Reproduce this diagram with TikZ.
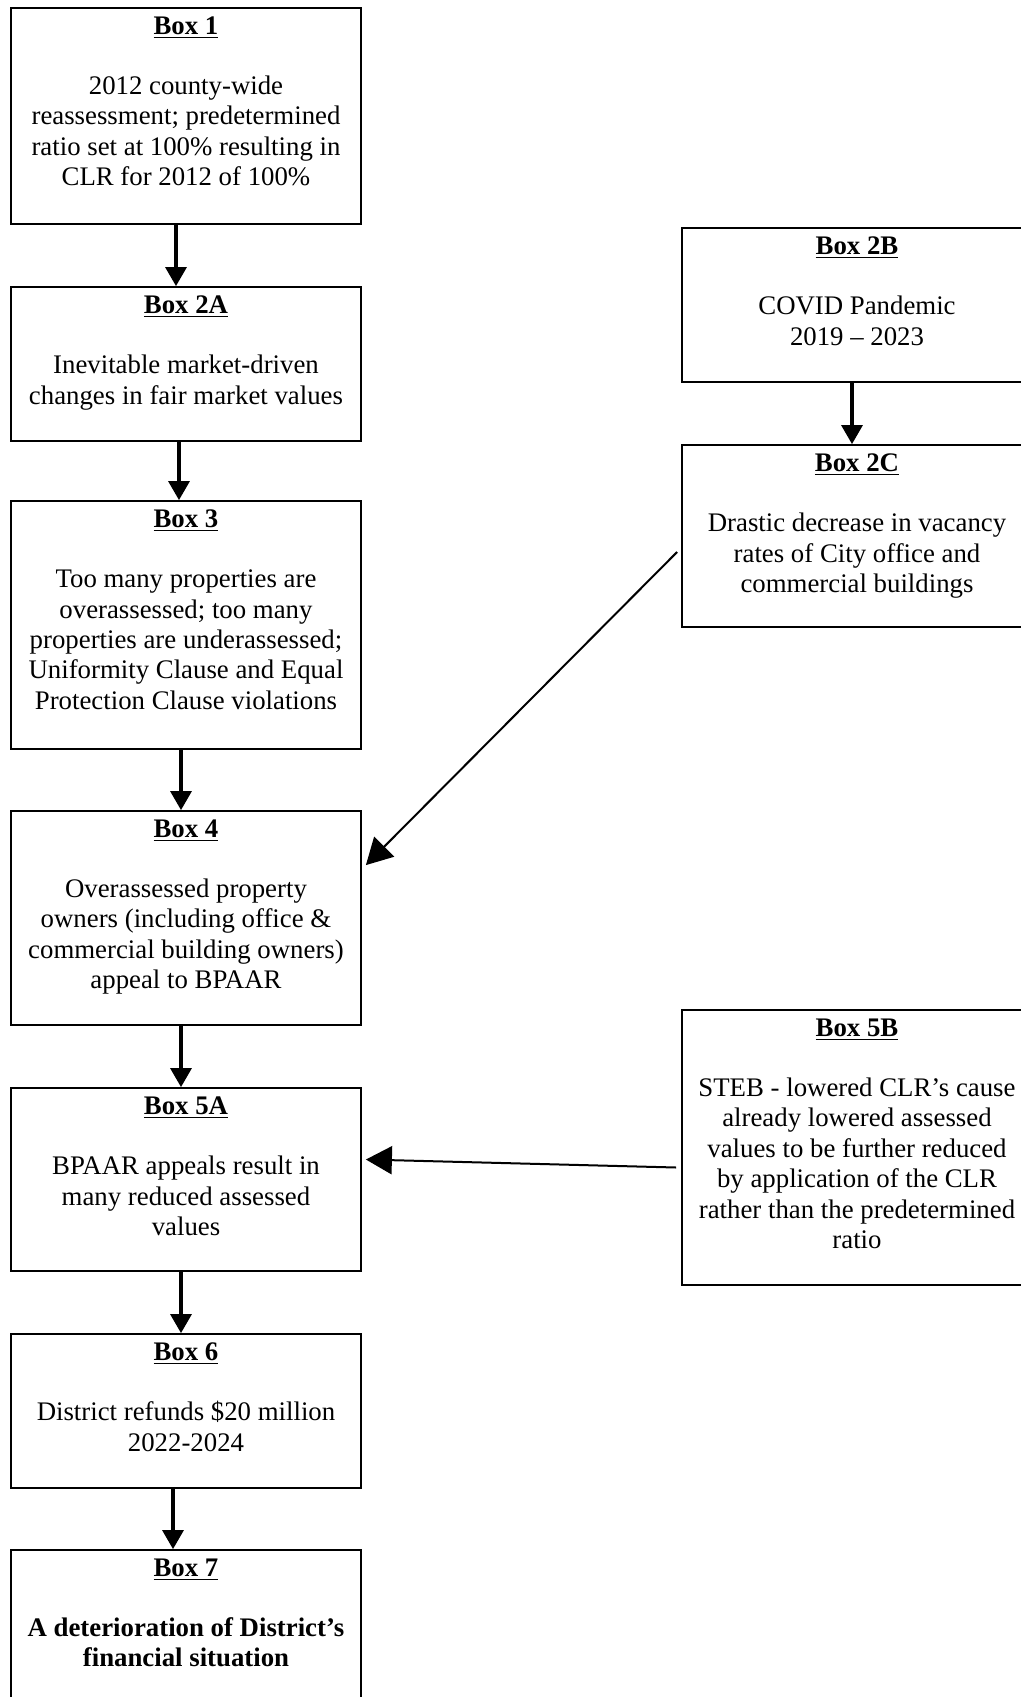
\documentclass[tikz,border=0pt]{standalone}
\usepackage{fontspec}
\setmainfont{Liberation Serif}
\usetikzlibrary{arrows.meta, calc, positioning}

\begin{document}
\begin{tikzpicture}[x=0.5pt, y=-0.5pt,
  box/.style={draw, line width=0.9pt, minimum width=175pt, inner sep=0pt},
  boxtext/.style={anchor=north, align=center, inner sep=0pt, font=\fontsize{13.4}{15.2}\selectfont},
  down/.style={-{Triangle[width=10.5pt,length=9.5pt]}, line width=1.6pt},
  side/.style={-{Triangle[width=14pt,length=13pt]}, line width=1pt}]
\useasboundingbox (0,0) rectangle (1021,1697);
\fill[white] (0,0) rectangle (1021,1697);
\clip (0,0) rectangle (1021,1697);
% left column
\node[box, minimum height=108pt] (b1) at (186,116) {};
\node[box, minimum height=77pt] (b2a) at (186,364) {};
\node[box, minimum height=124pt] (b3) at (186,625) {};
\node[box, minimum height=107pt] (b4) at (186,918) {};
\node[box, minimum height=91.5pt] (b5a) at (186,1179.5) {};
\node[box, minimum height=77pt] (b6) at (186,1411) {};
\node[box, minimum height=80pt] (b7) at (186,1630) {};
% right column
\node[box, minimum height=77pt] (b2b) at (857,305) {};
\node[box, minimum height=91pt] (b2c) at (857,536) {};
\node[box, minimum height=137.5pt] (b5b) at (857,1147.5) {};
% texts
\node[boxtext] (t1) at ($(b1.north)+(0,9)$) {\underline{\textbf{Box 1}}\\[15pt]
  2012 county-wide\\ reassessment; predetermined\\ ratio set at 100\% resulting in\\ CLR for 2012 of 100\%};
\node[boxtext] (t2a) at ($(b2a.north)+(0,9)$) {\underline{\textbf{Box 2A}}\\[15pt]
  Inevitable market-driven\\ changes in fair market values};
\node[boxtext] (t3) at ($(b3.north)+(0,9)$) {\underline{\textbf{Box 3}}\\[15pt]
  Too many properties are\\ overassessed; too many\\ properties are underassessed;\\ Uniformity Clause and Equal\\ Protection Clause violations};
\node[boxtext] (t4) at ($(b4.north)+(0,9)$) {\underline{\textbf{Box 4}}\\[15pt]
  Overassessed property\\ owners (including office \&\\ commercial building owners)\\ appeal to BPAAR};
\node[boxtext] (t5a) at ($(b5a.north)+(0,9)$) {\underline{\textbf{Box 5A}}\\[15pt]
  BPAAR appeals result in\\ many reduced assessed\\ values};
\node[boxtext] (t6) at ($(b6.north)+(0,9)$) {\underline{\textbf{Box 6}}\\[15pt]
  District refunds \$20 million\\ 2022-2024};
\node[boxtext] (t7) at ($(b7.north)+(0,9)$) {\underline{\textbf{Box 7}}\\[15pt]
  \textbf{A deterioration of District’s}\\ \textbf{financial situation}};
\node[boxtext] (t2b) at ($(b2b.north)+(0,9)$) {\underline{\textbf{Box 2B}}\\[15pt]
  COVID Pandemic\\ 2019 -- 2023};
\node[boxtext] (t2c) at ($(b2c.north)+(0,9)$) {\underline{\textbf{Box 2C}}\\[15pt]
  Drastic decrease in vacancy\\ rates of City office and\\ commercial buildings};
\node[boxtext] (t5b) at ($(b5b.north)+(0,9)$) {\underline{\textbf{Box 5B}}\\[15pt]
  STEB - lowered CLR’s cause\\ already lowered assessed\\ values to be further reduced\\ by application of the CLR\\ rather than the predetermined\\ ratio};
% arrows
\draw[down] ([xshift=-5pt]b1.south) -- ([xshift=-5pt]b2a.north);
\draw[down] ([xshift=-3.5pt]b2a.south) -- ([xshift=-3.5pt]b3.north);
\draw[down] ([xshift=-2.5pt]b3.south) -- ([xshift=-2.5pt]b4.north);
\draw[down] ([xshift=-2.5pt]b4.south) -- ([xshift=-2.5pt]b5a.north);
\draw[down] ([xshift=-2.5pt]b5a.south) -- ([xshift=-2.5pt]b6.north);
\draw[down] ([xshift=-6.5pt]b6.south) -- ([xshift=-6.5pt]b7.north);
\draw[down] ([xshift=-2.5pt]b2b.south) -- ([xshift=-2.5pt]b2c.north);
\draw[side] ($(b2c.west)+(-4,16)$) -- ($(b4.north east)+(4,55)$);
\draw[side] ($(b5b.west)+(-5,20)$) -- ($(b5a.east)+(4,-20)$);
\end{tikzpicture}
\end{document}
